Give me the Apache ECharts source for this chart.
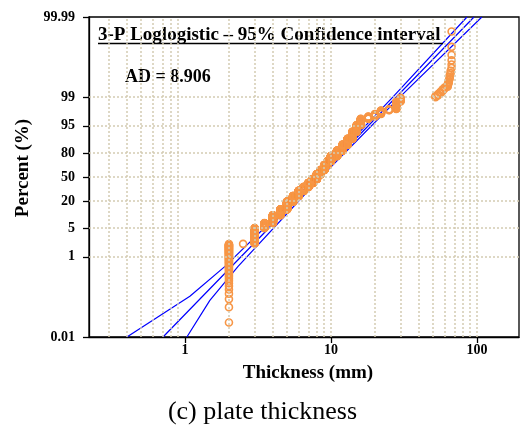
<!DOCTYPE html>
<html><head><meta charset="utf-8">
<script src="https://cdn.jsdelivr.net/npm/echarts@6/dist/echarts.min.js"></script>
<style>html,body{margin:0;padding:0;background:#fff}#c{width:520px;height:429px}</style>
</head><body><div id="c"></div>
<script>
// ---- axis definitions ----
const xRange = [0.22, 194];            // thickness (mm), log scale
const yRange = [0.01, 99.99];          // percent, logistic probability scale
const xTickValues = [1, 10, 100];
const yTickValues = [0.01, 1, 5, 20, 50, 80, 95, 99, 99.99];
const yTickText = ['0.01', '1', '5', '20', '50', '80', '95', '99', '99.99'];
const xGridValues = [0.3, 0.4, 0.5, 0.6, 0.7, 0.8, 0.9, 2, 3, 4, 5, 6, 7, 8, 9, 10, 20, 30, 40, 50, 60, 70, 80, 90, 100];
const yGridValues = [1, 5, 20, 50, 80, 95, 99];

// ---- observed plate thickness (mm): distinct values and number of plates at each ----
const thicknessLevels = [2, 2.5, 3, 3.5, 4, 4.5, 5, 5.5, 6, 6.5, 7, 7.5, 8, 8.5, 9, 9.5, 10, 11, 12, 13, 14, 15, 16, 18, 20, 22, 25, 28, 30, 52, 54, 56, 58, 60, 63, 64, 65, 66, 67];
const countsAtLevel   = [63, 1, 89, 48, 104, 104, 186, 168, 183, 152, 168, 168, 213, 183, 199, 152, 168, 152, 138, 107, 94, 64, 43, 12, 12, 15, 4, 21, 8, 3, 3, 3, 3, 2, 3, 3, 3, 2, 6];

// ---- fitted 3-P loglogistic line and 95% confidence bounds (thickness mm, percent) ----
const fitThickness = [0.707, 8.21, 95.4];
const fitPercent = [0.01, 50, 99.99];
const lowerThickness = [0.40, 1.08, 1.88, 7.96, 26.6, 85.4];
const lowerPercent = [0.01, 0.104, 0.58, 50, 99.02, 99.99];
const upperThickness = [1.03, 1.48, 2.31, 8.54, 29.7, 108];
const upperPercent = [0.01, 0.0824, 0.58, 50, 99.02, 99.99];

// ---- scale transforms (log10 for x, logit for y) ----
const tx = v => Math.log10(v);
const ty = p => Math.log(p / (100 - p));
const pairs = (xs, ys) => xs.map((x, i) => [tx(x), ty(ys[i])]);

// plotting positions: median ranks (Benard), as on a probability plot
const sampleSize = countsAtLevel.reduce((a, b) => a + b, 0);
const obsData = [];
let rank = 0;
thicknessLevels.forEach((t, i) => {
  for (let k = 0; k < countsAtLevel[i]; k++) {
    rank++;
    const pct = (rank - 0.3) / (sampleSize + 0.4) * 100;
    obsData.push([tx(t), ty(pct)]);
  }
});

const serif = '"Liberation Serif", "Times New Roman", serif';
const gridLineStyle = { color: '#d3ccb2', width: 1.5, type: [2, 2] };
const blue = '#0000ff';
const orange = '#f79646';

const chart = echarts.init(document.getElementById('c'), null, { renderer: 'canvas' });
chart.setOption({
  animation: false,
  backgroundColor: '#fff',
  grid: { left: 89, top: 17, right: 1, bottom: 92, show: true, borderColor: '#000', borderWidth: 1.3 },
  xAxis: {
    type: 'value', min: tx(xRange[0]), max: tx(xRange[1]),
    name: 'Thickness (mm)', nameLocation: 'middle', nameGap: 27,
    nameTextStyle: { fontFamily: serif, fontWeight: 'bold', fontSize: 19, color: '#000', padding: [0, 0, 0, 8] },
    axisLine: { show: true, onZero: false, lineStyle: { color: '#000', width: 1.3 } },
    axisTick: { show: true, inside: false, length: 6, customValues: xTickValues.map(tx), lineStyle: { color: '#000', width: 1.3 } },
    axisLabel: {
      customValues: xTickValues.map(tx), margin: 6,
      fontFamily: serif, fontWeight: 'bold', fontSize: 14, color: '#000',
      formatter: v => {
        let best = xTickValues[0];
        xTickValues.forEach(t => { if (Math.abs(tx(t) - v) < Math.abs(tx(best) - v)) best = t; });
        return String(best);
      }
    },
    splitLine: { show: false }
  },
  yAxis: {
    type: 'value', min: ty(yRange[0]), max: ty(yRange[1]),
    name: 'Percent (%)', nameLocation: 'middle', nameGap: 48, nameRotate: 90,
    nameTextStyle: { fontFamily: serif, fontWeight: 'bold', fontSize: 19, color: '#000', padding: [0, 0, 0, 18] },
    axisLine: { show: true, onZero: false, lineStyle: { color: '#000', width: 1.3 } },
    axisTick: { show: true, inside: false, length: 6, customValues: yTickValues.map(ty), lineStyle: { color: '#000', width: 1.3 } },
    axisLabel: {
      customValues: yTickValues.map(ty), margin: 14,
      fontFamily: serif, fontWeight: 'bold', fontSize: 14, color: '#000',
      formatter: v => {
        let bi = 0;
        yTickValues.forEach((p, i) => { if (Math.abs(ty(p) - v) < Math.abs(ty(yTickValues[bi]) - v)) bi = i; });
        return yTickText[bi];
      }
    },
    splitLine: { show: false }
  },
  graphic: [
    { type: 'text', left: 98, top: 25.8, z: 10,
      style: { text: '3-P Loglogistic \u2013 95% Confidence interval', font: 'bold 19px ' + serif, fill: '#000' } },
    { type: 'line', z: 10, shape: { x1: 98, y1: 43.6, x2: 443, y2: 43.6 }, style: { stroke: '#000', lineWidth: 1.5 } },
    { type: 'text', left: 125, top: 68.2, z: 10,
      style: { text: 'AD = 8.906', font: 'bold 18px ' + serif, fill: '#000' } },
    { type: 'text', z: 10, style: { text: '(c) plate thickness', x: 262.5, y: 399, align: 'center', verticalAlign: 'top', font: '26px ' + serif, fill: '#000' } }
  ],
  series: [
    {
      type: 'scatter', data: [], silent: true, z: 1,
      markLine: {
        silent: true, symbol: 'none', label: { show: false }, animation: false,
        lineStyle: gridLineStyle,
        data: xGridValues.map(v => ({ xAxis: tx(v) })).concat(yGridValues.map(p => ({ yAxis: ty(p) })))
      }
    },
    { type: 'line', data: pairs(lowerThickness, lowerPercent), showSymbol: false, silent: true, z: 2,
      lineStyle: { color: blue, width: 1.2 } },
    { type: 'line', data: pairs(fitThickness, fitPercent), showSymbol: false, silent: true, z: 2,
      lineStyle: { color: blue, width: 1.2 } },
    { type: 'line', data: pairs(upperThickness, upperPercent), showSymbol: false, silent: true, z: 2,
      lineStyle: { color: blue, width: 1.2 } },
    { type: 'scatter', data: obsData, symbol: 'circle', symbolSize: 7, silent: true, z: 3, large: false,
      itemStyle: { color: 'rgba(0,0,0,0)', borderColor: orange, borderWidth: 1.6, opacity: 1 } }
  ]
});
</script></body></html>
